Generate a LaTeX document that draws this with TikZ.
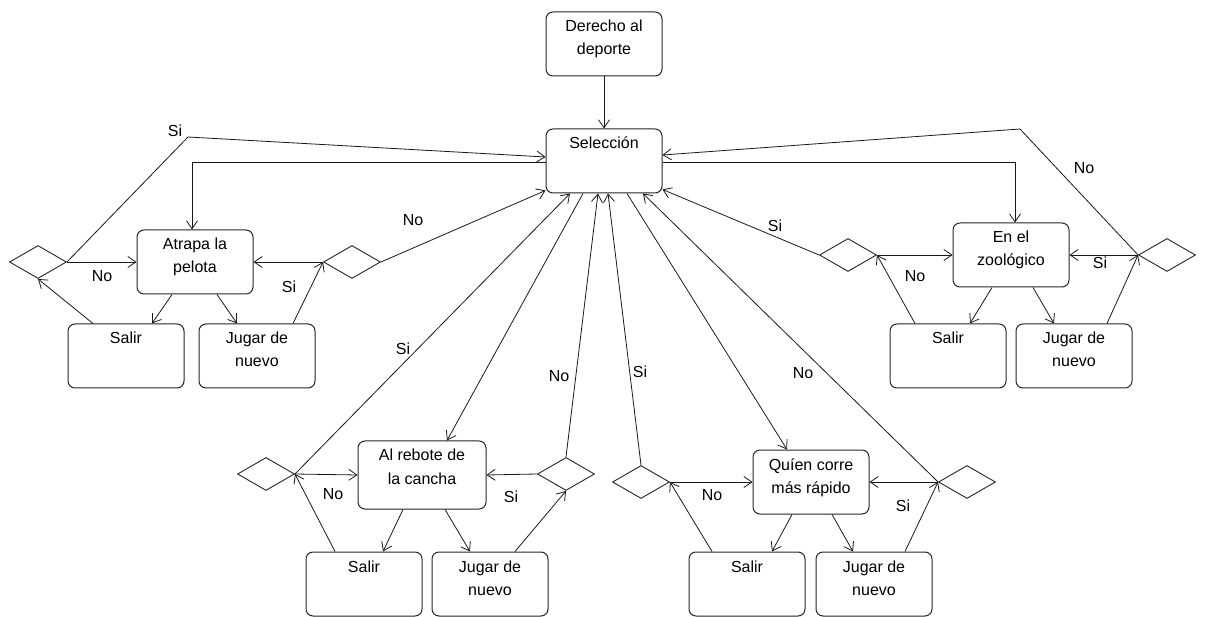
\documentclass[tikz,border=0pt]{standalone}
\usepackage{fontspec}
\setmainfont{Liberation Sans}
\usetikzlibrary{arrows.meta,shapes.geometric}
% box text: fixed-size parbox, text set from the top
\newcommand\boxtext[3]{\parbox[c][#2][t]{#1}{\centering\rule{0pt}{20pt}#3}}
\newcommand\diafont{\fontsize{16}{23}\selectfont}
\begin{document}
\begin{tikzpicture}[x=1pt,y=-1pt,
  box/.style={draw=black!85, line width=1pt, rounded corners=7pt, inner sep=0pt, fill=white, font=\diafont},
  dec/.style={draw=black!85, line width=0.9pt, diamond, inner sep=0pt, minimum width=57pt, minimum height=33pt},
  arr/.style={draw=black!90, line width=0.8pt, -{Straight Barb[length=8pt,width=11pt]}},
  lbl/.style={inner sep=0pt, font=\diafont}]
\fill[white] (0,0) rectangle (1205,617);
\useasboundingbox (0,0) rectangle (1205,617);

% main nodes
\node[box] (der) at (604,44) {\boxtext{116pt}{64pt}{Derecho al\\deporte}};
\node[box] (sel) at (604,161) {\boxtext{116pt}{64pt}{Selección}};

% Atrapa la pelota
\node[box] (atr)  at (195,262) {\boxtext{116pt}{64pt}{Atrapa la\\pelota}};
\node[box] (atrS) at (126,356) {\boxtext{116pt}{64pt}{Salir}};
\node[box] (atrJ) at (257,356) {\boxtext{116pt}{64pt}{Jugar de\\nuevo}};
\node[dec] (atrDL) at (38,262) {};
\node[dec] (atrDR) at (352,262) {};

% En el zoologico
\node[box] (zoo)  at (1011,255) {\boxtext{116pt}{64pt}{En el\\zoológico}};
\node[box] (zooS) at (948,356) {\boxtext{116pt}{64pt}{Salir}};
\node[box] (zooJ) at (1074,356) {\boxtext{116pt}{64pt}{Jugar de\\nuevo}};
\node[dec] (zooDL) at (848,255) {};
\node[dec] (zooDR) at (1167,255) {};

% Al rebote de la cancha
\node[box] (reb)  at (422,475) {\boxtext{128pt}{68pt}{Al rebote de\\la cancha}};
\node[box] (rebS) at (364,584) {\boxtext{116pt}{64pt}{Salir}};
\node[box] (rebJ) at (490,584) {\boxtext{116pt}{64pt}{Jugar de\\nuevo}};
\node[dec] (rebDL) at (266,474) {};
\node[dec] (rebDR) at (566,474) {};

% Quien corre mas rapido
\node[box] (qui)  at (811,482) {\boxtext{116pt}{64pt}{Quíen corre\\más rápido}};
\node[box] (quiS) at (747,584) {\boxtext{116pt}{64pt}{Salir}};
\node[box] (quiJ) at (874,584) {\boxtext{116pt}{64pt}{Jugar de\\nuevo}};
\node[dec] (quiDL) at (641,482) {};
\node[dec] (quiDR) at (967,482) {};

\coordinate (atrBend) at (188,137);
\coordinate (zooBend) at (1020,129);

% start
\draw[arr] (der) -- (sel);

% Atrapa la pelota connectors
\draw[arr] ([yshift=-1pt]sel.west) -| ([xshift=-3pt]atr.north);
\draw[arr] (atrDL.east) -- (atr.west) node[lbl, at={(102,276)}] {No};
\draw[arr] (atrDL.east) -- (atrBend) -- ([yshift=4pt]sel.west) node[lbl, at={(175,131)}] {Si};
\draw[arr] ([xshift=-23pt]atr.south) -- ([xshift=26pt]atrS.north);
\draw[arr] ([xshift=22pt]atr.south) -- ([xshift=-20pt]atrJ.north);
\draw[arr] ([xshift=-33pt]atrS.north) -- (atrDL.south);
\draw[arr] ([xshift=36pt]atrJ.north) -- (atrDR.west);
\draw[arr] (atrDR.west) -- (atr.east) node[lbl, at={(289,287)}] {Si};
\draw[arr] (atrDR.east) -- ([yshift=3pt]sel.south west) node[lbl, at={(413,220)}] {No};

% En el zoologico connectors
\draw[arr] ([yshift=-1pt]sel.east) -| ([xshift=4pt]zoo.north);
\draw[arr] (zooDL.east) -- (zoo.west) node[lbl, at={(915,276)}] {No};
\draw[arr] (zooDL.west) -- ([yshift=4pt]sel.south east) node[lbl, at={(775,226)}] {Si};
\draw[arr] ([xshift=-19pt]zoo.south) -- ([xshift=22pt]zooS.north);
\draw[arr] ([xshift=22pt]zoo.south) -- ([xshift=-20pt]zooJ.north);
\draw[arr] ([xshift=-33pt]zooS.north) -- (zooDL.east);
\draw[arr] ([xshift=33pt]zooJ.north) -- (zooDR.west);
\draw[arr] (zooDR.west) -- (zoo.east) node[lbl, at={(1100,263)}] {Si};
\draw[arr] (zooDR.west) -- (zooBend) -- ([yshift=6pt]sel.east) node[lbl, at={(1084,168)}] {No};

% Al rebote de la cancha connectors
\draw[arr] ([xshift=-21pt]sel.south) -- ([xshift=25pt]reb.north);
\draw[arr] (rebDL.east) -- (reb.west) node[lbl, at={(333,494)}] {No};
\draw[arr] (rebDL.east) -- ([xshift=-34pt]sel.south) node[lbl, at={(403,349)}] {Si};
\draw[arr] ([xshift=-19pt]reb.south) -- ([xshift=19pt]rebS.north);
\draw[arr] ([xshift=23pt]reb.south) -- ([xshift=-20pt]rebJ.north);
\draw[arr] ([xshift=-29pt]rebS.north) -- (rebDL.east);
\draw[arr] ([xshift=25pt]rebJ.north) -- (rebDR.south);
\draw[arr] (rebDR.west) -- (reb.east) node[lbl, at={(511,497)}] {Si};
\draw[arr] (rebDR.north) -- ([xshift=-6pt]sel.south) node[lbl, at={(559,376)}] {No};

% Quien corre mas rapido connectors
\draw[arr] ([xshift=23pt]sel.south) -- ([xshift=-24pt]qui.north);
\draw[arr] (quiDL.east) -- (qui.west) node[lbl, at={(712,495)}] {No};
\draw[arr] (quiDL.north) -- ([xshift=4pt]sel.south) node[lbl, at={(640,372)}] {Si};
\draw[arr] ([xshift=-19pt]qui.south) -- ([xshift=25pt]quiS.north);
\draw[arr] ([xshift=21pt]qui.south) -- ([xshift=-21pt]quiJ.north);
\draw[arr] ([xshift=-35pt]quiS.north) -- (quiDL.east);
\draw[arr] ([xshift=31pt]quiJ.north) -- (quiDR.west);
\draw[arr] (quiDR.west) -- (qui.east) node[lbl, at={(903,506)}] {Si};
\draw[arr] (quiDR.west) -- ([xshift=39pt]sel.south) node[lbl, at={(803,373)}] {No};
\end{tikzpicture}
\end{document}
